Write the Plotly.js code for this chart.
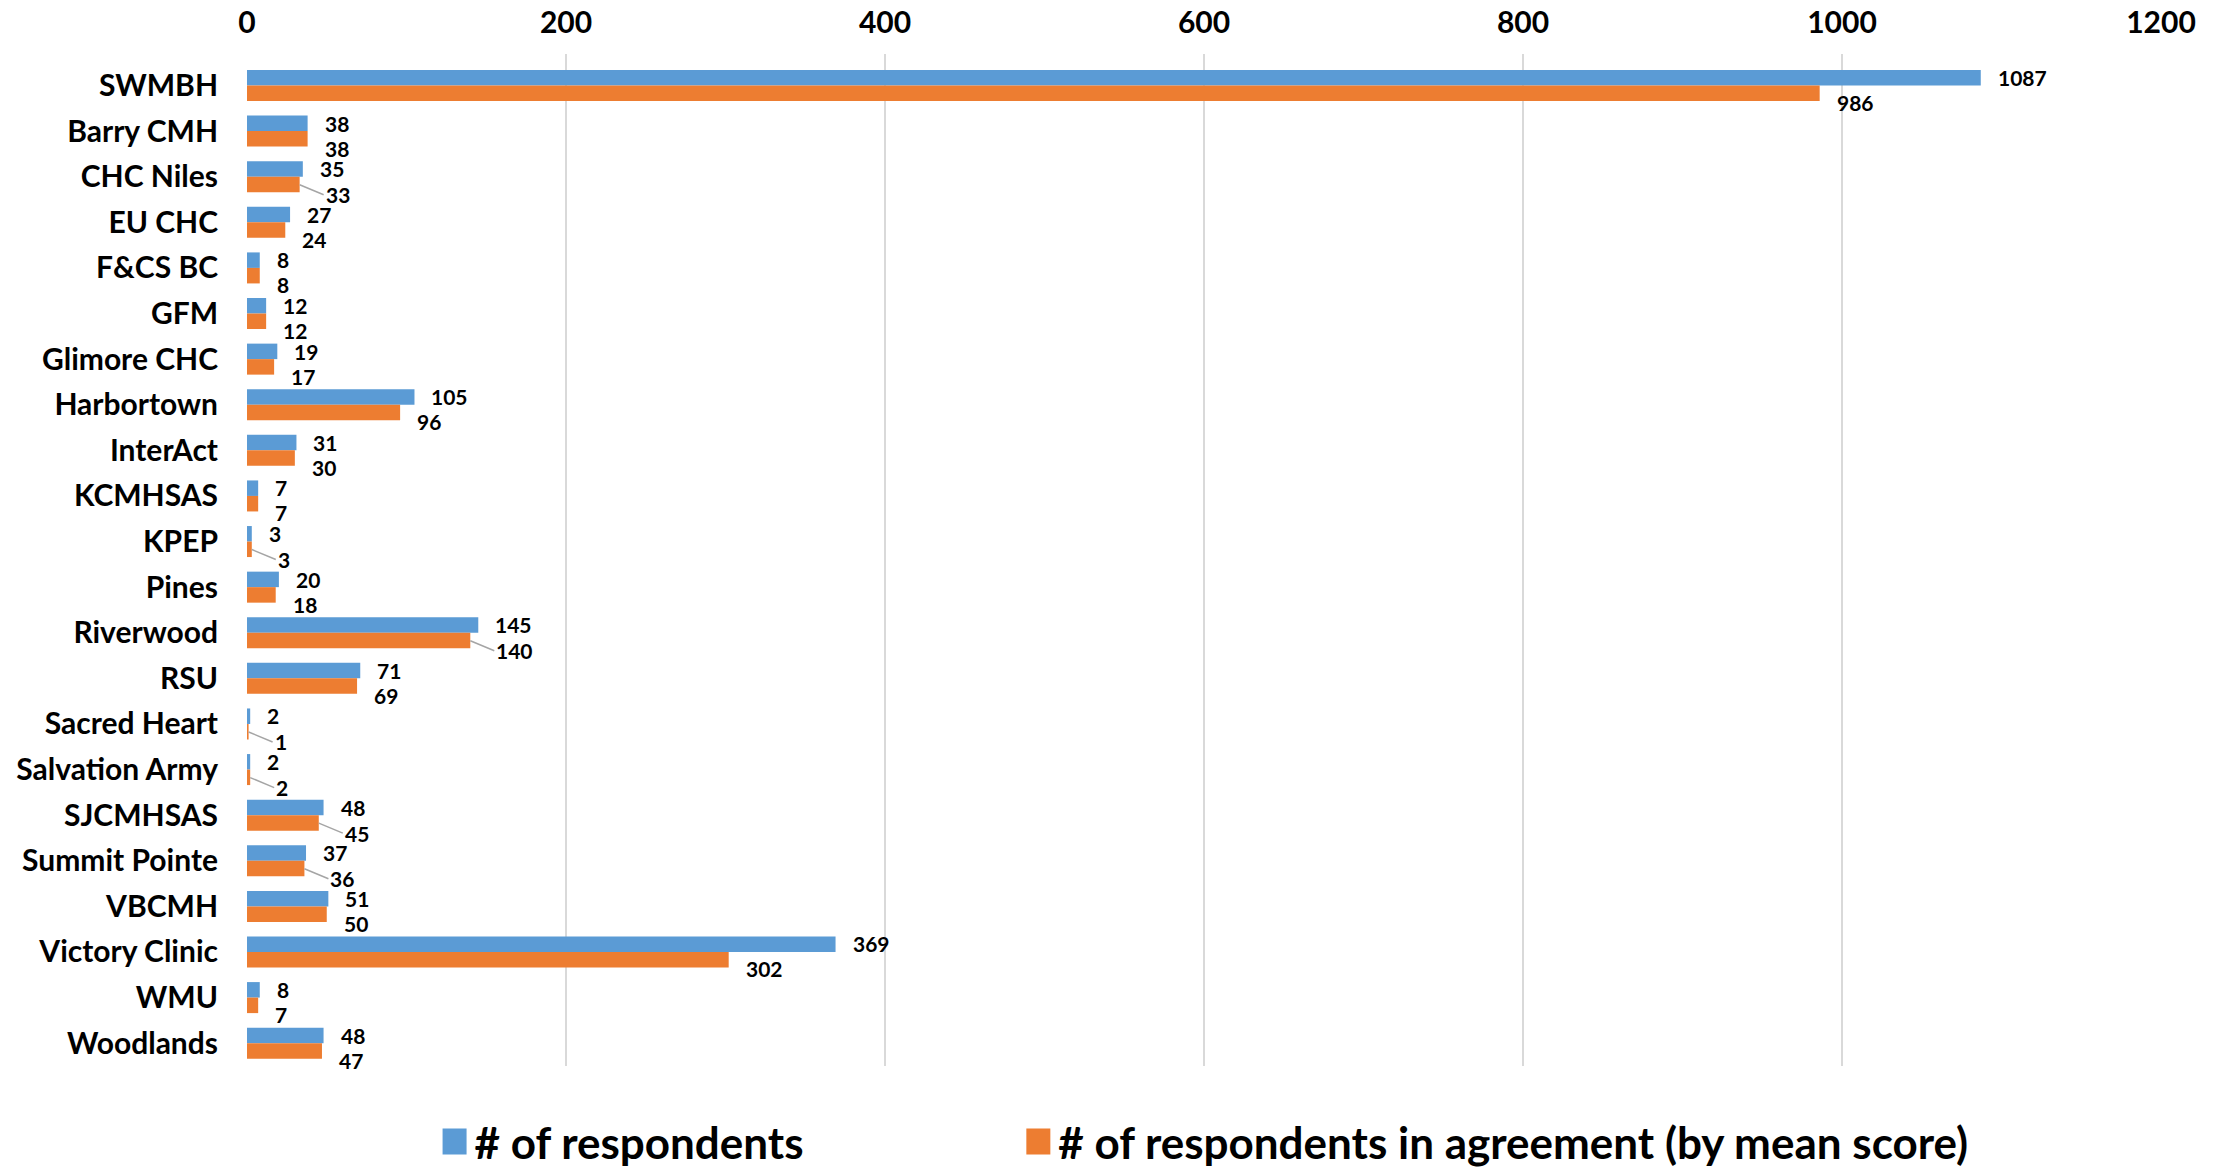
<!DOCTYPE html>
<html>
<head>
<meta charset="utf-8">
<script src="https://cdn.plot.ly/plotly-3.0.1.min.js"></script>
<style>html,body{margin:0;padding:0;background:#fff;}#chart{width:2216px;height:1171px;}</style>
</head>
<body>
<div id="chart"></div>
<script>
const categories = ["SWMBH","Barry CMH","CHC Niles","EU CHC","F&CS BC","GFM","Glimore CHC","Harbortown","InterAct","KCMHSAS","KPEP","Pines","Riverwood","RSU","Sacred Heart","Salvation Army","SJCMHSAS","Summit Pointe","VBCMH","Victory Clinic","WMU","Woodlands"];
const respondents = [1087,38,35,27,8,12,19,105,31,7,3,20,145,71,2,2,48,37,51,369,8,48];
const agreement = [986,38,33,24,8,12,17,96,30,7,3,18,140,69,1,2,45,36,50,302,7,47];
const seriesNames = ["# of respondents","# of respondents in agreement (by mean score)"];
const xTicks = [0,200,400,600,800,1000,1200];
// orange labels that were pulled away from their bar with a leader line in the reference
const leaderRows = ["CHC Niles","KPEP","Riverwood","Sacred Heart","Salvation Army","SJCMHSAS","Summit Pointe"];

const FONT = "Lato, 'Open Sans', sans-serif";
const BLUE = '#5B9BD5', ORANGE = '#ED7D31';

const traces = [
  {type:'bar', orientation:'h', name:seriesNames[0], y:categories, x:respondents,
   marker:{color:BLUE}, legend:'legend', hoverinfo:'none'},
  {type:'bar', orientation:'h', name:seriesNames[1], y:categories, x:agreement,
   marker:{color:ORANGE}, legend:'legend2', hoverinfo:'none'}
];

// data labels placed from the data arrays
const labelFont = {family:FONT, size:21, color:'#000', weight:'bold'};
const annotations = [];
categories.forEach((c, i) => {
  annotations.push({x:respondents[i], y:c, xref:'x', yref:'y', text:String(respondents[i]),
    showarrow:false, xanchor:'left', yanchor:'middle', xshift:15, yshift:8, font:labelFont});
  if (leaderRows.includes(c)) {
    annotations.push({x:agreement[i], y:c, xref:'x', yref:'y', text:String(agreement[i]),
      showarrow:true, arrowhead:0, arrowwidth:1.5, arrowcolor:'#a5a5a5', standoff:0,
      ax:24, ay:10, xanchor:'left', yanchor:'middle', yshift:-8, font:labelFont});
  } else {
    annotations.push({x:agreement[i], y:c, xref:'x', yref:'y', text:String(agreement[i]),
      showarrow:false, xanchor:'left', yanchor:'middle', xshift:15, yshift:-17, font:labelFont});
  }
});

const legendFont = {family:FONT, size:44, color:'#000', weight:'bold'};
const layout = {
  width:2216, height:1171,
  margin:{l:247, r:55, t:54, b:105, autoexpand:false},
  paper_bgcolor:'#fff', plot_bgcolor:'#fff',
  font:{family:FONT, color:'#000'},
  barmode:'group', bargap:0.32, bargroupgap:0,
  showlegend:true,
  legend:{orientation:'h', x:0.098, xanchor:'left', y:-0.075, yanchor:'middle', font:legendFont, bgcolor:'rgba(0,0,0,0)'},
  legend2:{orientation:'h', x:0.403, xanchor:'left', y:-0.075, yanchor:'middle', font:legendFont, bgcolor:'rgba(0,0,0,0)'},
  annotations: annotations,
  xaxis:{side:'top', range:[0,1200], tickvals:xTicks, ticktext:xTicks.map(String),
         showgrid:true, gridcolor:'#d9d9d9', gridwidth:2, zeroline:false, showline:false,
         ticks:'', ticklabelstandoff:14,
         tickfont:{family:FONT, size:30, color:'#000', weight:'bold'}, fixedrange:true},
  yaxis:{autorange:'reversed', type:'category', showgrid:false, zeroline:false, showline:false,
         ticks:'', ticklabelstandoff:28,
         tickfont:{family:FONT, size:30, color:'#000', weight:'bold'}, fixedrange:true}
};

Plotly.newPlot('chart', traces, layout, {displayModeBar:false, staticPlot:true}).then(gd => {
  // enlarge the legend colour squares to match the reference
  gd.querySelectorAll('.legendpoints path').forEach(p => p.setAttribute('d', 'M12,13H-12V-13H12Z'));
});
</script>
</body>
</html>
